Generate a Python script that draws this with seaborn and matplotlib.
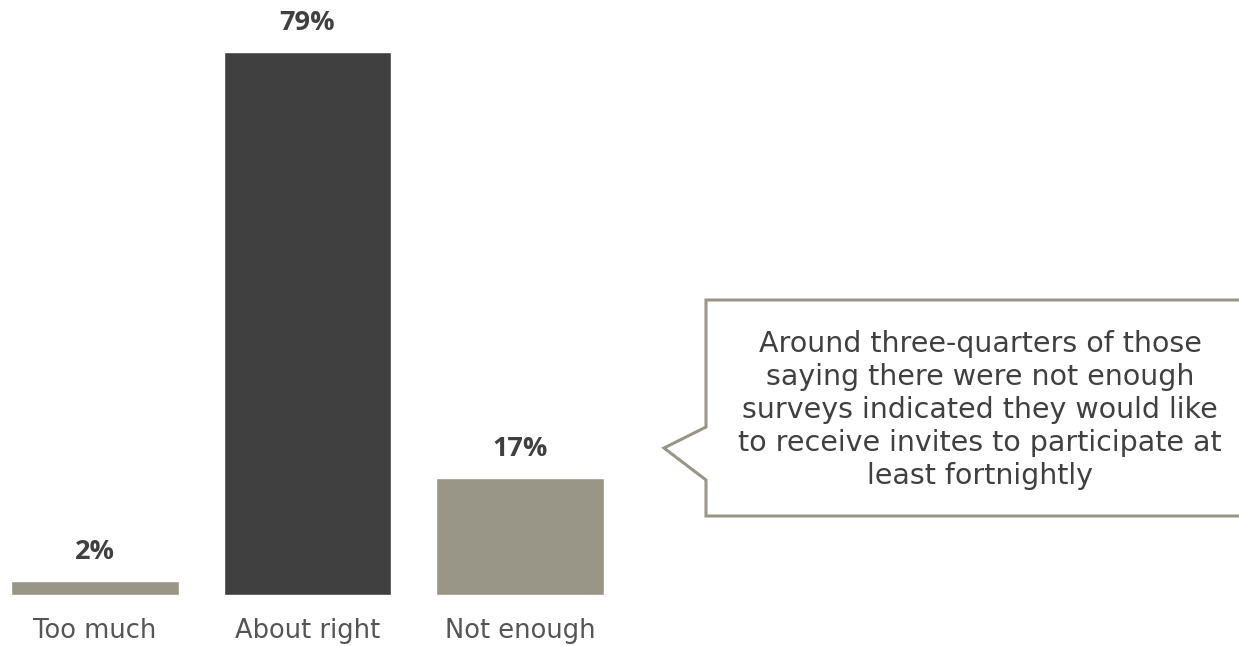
import matplotlib
matplotlib.use("Agg")
import matplotlib.pyplot as plt
from matplotlib.patches import Polygon
import seaborn as sns
import pandas as pd

# Survey frequency responses
categories = ["Too much", "About right", "Not enough"]
values = [2, 79, 17]
bar_colors = ["#999688", "#404040", "#999688"]
callout_text = ("Around three-quarters of those\n"
                "saying there were not enough\n"
                "surveys indicated they would like\n"
                "to receive invites to participate at\n"
                "least fortnightly")

W, H = 1239, 646
DPI = 100
sns.set_theme(style="white")
plt.rcParams["font.family"] = ["Open Sans", "DejaVu Sans"]

fig = plt.figure(figsize=(W / DPI, H / DPI), dpi=DPI)
fig.patch.set_facecolor("white")

# Bar axes placed in pixel units: baseline at y=595, x from 0 to 620
ax_left, ax_right = 0, 620
base_y = 595
ax = fig.add_axes([ax_left / W, (H - base_y) / H, (ax_right - ax_left) / W, base_y / H])

df = pd.DataFrame({"category": categories, "value": values})
sns.barplot(data=df, x="category", y="value", hue="category",
            palette=bar_colors, width=0.79, legend=False, ax=ax,
            saturation=1)

spacing = 212.5
ax.set_xlim((ax_left - 95) / spacing, (ax_right - 95) / spacing)
px_per_unit = (595 - 52) / 79
ax.set_ylim(0, base_y / px_per_unit)
ax.axis("off")

body_font = ["DejaVu Sans"]
for i, v in enumerate(values):
    ax.annotate(f"{v}%", xy=(i, v), xytext=(0, 21), textcoords="offset points",
                ha="center", va="center", fontsize=19.5, fontweight="bold",
                color="#404040")
    ax.annotate(categories[i], xy=(i, 0), xytext=(0, -26), textcoords="offset points",
                ha="center", va="center", fontsize=18.5, color="#555555",
                family=body_font, annotation_clip=False)

# Overlay axes in pixel coordinates for the callout
ov = fig.add_axes([0, 0, 1, 1])
ov.set_xlim(0, W)
ov.set_ylim(H, 0)
ov.axis("off")
ov.patch.set_alpha(0)

box = [(706, 300), (1245, 300), (1245, 516), (706, 516),
       (706, 480), (664, 448), (706, 427)]
ov.add_patch(Polygon(box, closed=True, facecolor="white",
                     edgecolor="#999688", linewidth=2.2))
ov.text(980, 410, callout_text, ha="center", va="center", fontsize=20.5,
        color="#404040", linespacing=1.22, family=body_font)

fig.savefig("out.png", dpi=DPI, facecolor="white")
